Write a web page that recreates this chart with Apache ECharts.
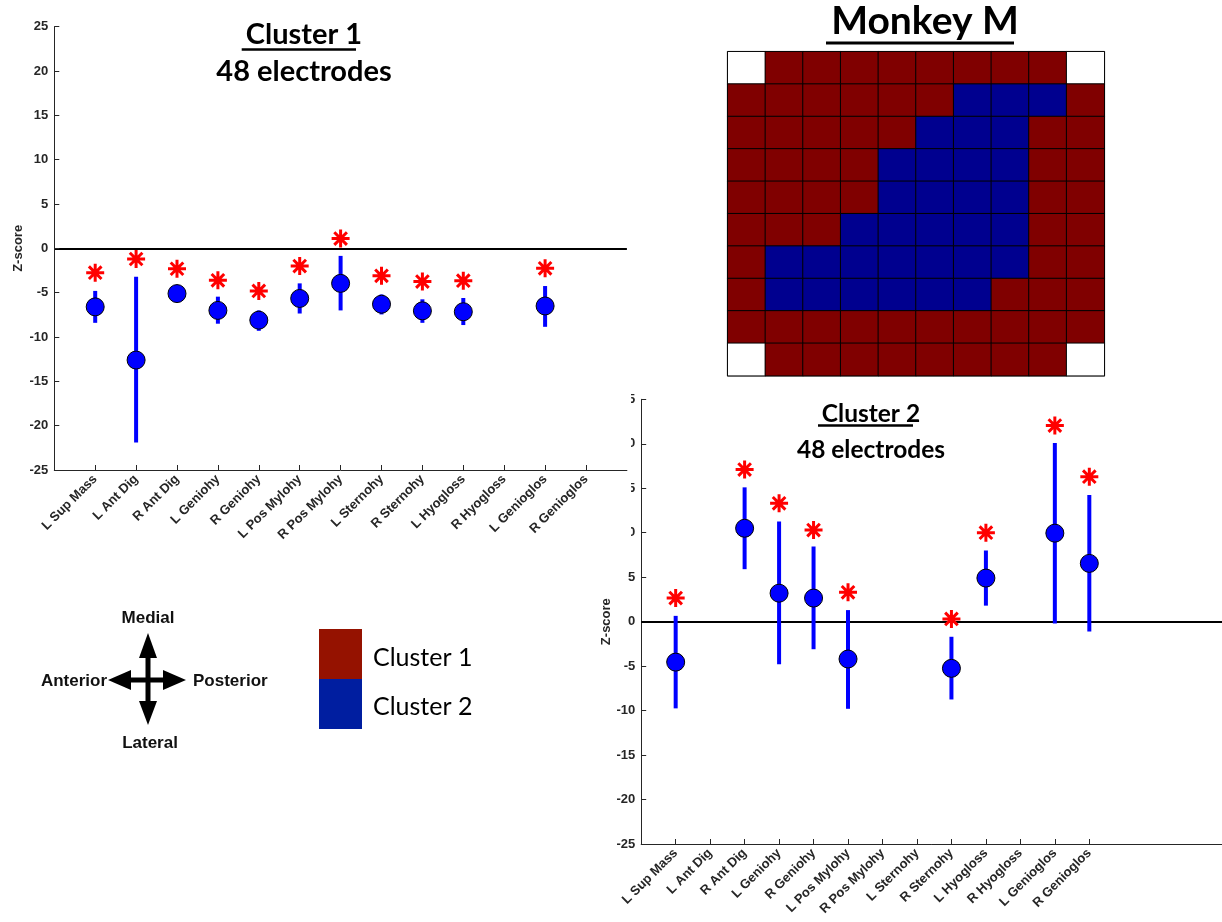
<!DOCTYPE html>
<html>
<head>
<meta charset="utf-8">
<script src="https://cdn.jsdelivr.net/npm/echarts@6/dist/echarts.min.js"></script>
<style>
html,body{margin:0;padding:0;background:#fff}
#main{width:1222px;height:922px}
</style>
</head>
<body>
<div id="main"></div>
<script>
// muscle names on the x axis (same for both clusters)
var muscles = ['L Sup Mass','L Ant Dig','R Ant Dig','L Geniohy','R Geniohy','L Pos Mylohy',
  'R Pos Mylohy','L Sternohy','R Sternohy','L Hyogloss','R Hyogloss','L Genioglos','R Genioglos'];

// cluster 1: mean z-score, error bar low/high, significance star
var c1Mean = [-6.6,-12.6,-5.1,-7.0,-8.1,-5.65,-3.95,-6.3,-7.05,-7.15,null,-6.5,null];
var c1Low  = [-8.4,-21.9,-5.5,-8.5,-9.3,-7.35,-7.0,-7.45,-8.4,-8.65,null,-8.85,null];
var c1High = [-4.8,-3.2,-4.7,-5.45,-7.0,-3.95,-0.85,-5.2,-5.75,-5.6,null,-4.25,null];
var c1Star = [-2.75,-1.2,-2.3,-3.6,-4.8,-2.0,1.1,-3.1,-3.75,-3.65,null,-2.25,null];

// cluster 2
var c2Mean = [-4.55,null,10.5,3.2,2.65,-4.2,null,null,-5.25,4.9,null,9.95,6.55];
var c2Low  = [-9.75,null,5.9,-4.8,-3.1,-9.8,null,null,-8.75,1.8,null,-0.2,-1.1];
var c2High = [0.65,null,15.1,11.25,8.45,1.3,null,null,-1.7,8.0,null,20.1,14.25];
var c2Star = [2.65,null,17.1,13.3,10.3,3.3,null,null,0.3,10.0,null,22.05,16.3];

// electrode map, 0 = empty, 1 = cluster 1, 2 = cluster 2 (top row first)
var mapRows = [
  '0111111110',
  '1111112221',
  '1111122211',
  '1111222211',
  '1111222211',
  '1112222211',
  '1222222211',
  '1222222111',
  '1111111111',
  '0111111110'
];

var tickPos = muscles.map(function(m, i){ return i + 1; });
var axisCol = '#262626';
var lblFont = {fontFamily:'Liberation Sans', fontWeight:'bold', fontSize:13, color:axisCol};
var star = 'path://M10,0L10,20M0,10L20,10M3,3L17,17M3,17L17,3';

function points(arr){
  var out = [];
  arr.forEach(function(v, i){ if(v != null) out.push([i + 1, v]); });
  return out;
}
function ranges(lo, hi){
  var out = [];
  lo.forEach(function(v, i){ if(v != null) out.push([i + 1, v, hi[i]]); });
  return out;
}
function heatData(){
  var out = [];
  mapRows.forEach(function(row, r){
    for(var c = 0; c < row.length; c++) out.push([c, r, +row[c]]);
  });
  return out;
}

function xAx(idx, max){
  return {
    type:'value', gridIndex:idx, min:0, max:max, interval:1, z:idx === 0 ? 3 : 0,
    splitLine:{show:false},
    axisLine:{onZero:false, lineStyle:{color:axisCol, width:1}},
    axisTick:{inside:true, length:5, customValues:tickPos, lineStyle:{color:axisCol}},
    axisLabel:Object.assign({customValues:tickPos, rotate:45, margin:7,
      formatter:function(v){ return muscles[v - 1] || ''; }}, lblFont)
  };
}
function yAx(idx){
  return {
    type:'value', gridIndex:idx, min:-25, max:25, interval:5, z:idx === 0 ? 3 : 0,
    splitLine:{show:false},
    axisLine:{show:true, onZero:false, lineStyle:{color:axisCol, width:1}},
    axisTick:{show:true, inside:true, length:5, lineStyle:{color:axisCol}},
    axisLabel:Object.assign({margin:6}, lblFont),
    name:'Z-score', nameLocation:'middle', nameGap:idx === 0 ? 29 : 24,
    nameTextStyle:lblFont
  };
}
function errSeries(idx, lo, hi){
  return {
    type:'custom', xAxisIndex:idx, yAxisIndex:idx, z:2,
    data:ranges(lo, hi), encode:{x:0, y:[1, 2]},
    renderItem:function(params, api){
      var a = api.coord([api.value(0), api.value(1)]);
      var b = api.coord([api.value(0), api.value(2)]);
      return {type:'line', shape:{x1:a[0], y1:a[1], x2:b[0], y2:b[1]},
        style:{stroke:'#0000ff', lineWidth:4}};
    }
  };
}
function meanSeries(idx, arr){
  return {
    type:'scatter', xAxisIndex:idx, yAxisIndex:idx, z:4,
    data:points(arr), symbol:'circle', symbolSize:18,
    itemStyle:{color:'#0000ff', borderColor:'#000', borderWidth:1, opacity:1},
    markLine:{silent:true, symbol:'none', label:{show:false}, z:1,
      lineStyle:{color:'#000', width:2, type:'solid'}, data:[{yAxis:0}]}
  };
}
function starSeries(idx, arr){
  return {
    type:'scatter', xAxisIndex:idx, yAxisIndex:idx, z:4,
    data:points(arr), symbol:star, symbolSize:18,
    itemStyle:{color:'none', borderColor:'#ff0000', borderWidth:3, opacity:1}
  };
}

var titleFont = {fontFamily:'Lato', fontWeight:'bold', fontSize:29, color:'#000'};
var title2Font = {fontFamily:'Lato', fontWeight:'bold', fontSize:24.5, color:'#000'};

var chart = echarts.init(document.getElementById('main'));
chart.setOption({
  animation:false,
  backgroundColor:'#fff',
  title:[
    {text:'Cluster 1', subtext:'48 electrodes', left:299, top:15, textAlign:'center', itemGap:8,
      textStyle:titleFont, subtextStyle:titleFont},
    {text:'Cluster 2', subtext:'48 electrodes', left:866, top:397, textAlign:'center', itemGap:11,
      textStyle:title2Font, subtextStyle:title2Font},
    {text:'Monkey M', left:920, top:-3, textAlign:'center',
      textStyle:{fontFamily:'Lato', fontWeight:'bold', fontSize:39, color:'#000'}}
  ],
  grid:[
    {left:54.3, top:26.7, width:572.6, height:443.3, outerBoundsMode:'none'},
    {left:641.2, top:399.3, width:586, height:444.7, outerBoundsMode:'none'},
    {left:727.7, top:51.7, width:376.6, height:324, outerBoundsMode:'none',
      show:true, borderColor:'#666', borderWidth:1.5, backgroundColor:'#fff'}
  ],
  xAxis:[
    xAx(0, 14),
    xAx(1, 17),
    {type:'category', gridIndex:2, data:mapRows[0].split('').map(function(c, i){ return i; }), show:false}
  ],
  yAxis:[
    yAx(0),
    yAx(1),
    {type:'category', gridIndex:2, inverse:true, data:mapRows.map(function(r, i){ return i; }), show:false}
  ],
  visualMap:{
    type:'piecewise', show:false, seriesIndex:6, dimension:2,
    pieces:[{value:0, color:'#ffffff'}, {value:1, color:'#800000'}, {value:2, color:'#00008f'}]
  },
  series:[
    errSeries(0, c1Low, c1High),
    meanSeries(0, c1Mean),
    starSeries(0, c1Star),
    errSeries(1, c2Low, c2High),
    meanSeries(1, c2Mean),
    starSeries(1, c2Star),
    {type:'heatmap', xAxisIndex:2, yAxisIndex:2, data:heatData(),
      itemStyle:{borderColor:'#000', borderWidth:1}, emphasis:{disabled:true}}
  ],
  graphic:[
    // white panel edge that hides part of the cluster 2 tick labels
    {type:'rect', z:1, shape:{x:600, y:390, width:31, height:155}, style:{fill:'#fff'}},
    // title underlines
    {type:'line', shape:{x1:241.7, y1:49.5, x2:356, y2:49.5}, style:{stroke:'#000', lineWidth:2.5}},
    {type:'line', shape:{x1:818, y1:425.5, x2:913, y2:425.5}, style:{stroke:'#000', lineWidth:2.5}},
    {type:'line', shape:{x1:826, y1:43, x2:1014, y2:43}, style:{stroke:'#000', lineWidth:3}},
    // orientation compass
    {type:'line', shape:{x1:148, y1:652, x2:148, y2:708}, style:{stroke:'#000', lineWidth:5}},
    {type:'line', shape:{x1:126, y1:680, x2:168, y2:680}, style:{stroke:'#000', lineWidth:5}},
    {type:'polygon', shape:{points:[[148,633],[139,658],[157,658]]}, style:{fill:'#000'}},
    {type:'polygon', shape:{points:[[148,725],[139,701],[157,701]]}, style:{fill:'#000'}},
    {type:'polygon', shape:{points:[[108,680],[131,670],[131,690]]}, style:{fill:'#000'}},
    {type:'polygon', shape:{points:[[186,680],[163,670],[163,690]]}, style:{fill:'#000'}},
    {type:'text', style:{text:'Medial', x:148, y:618, textAlign:'center', textVerticalAlign:'middle',
      font:'bold 17px "Liberation Sans"', fill:'#111'}},
    {type:'text', style:{text:'Lateral', x:150, y:743, textAlign:'center', textVerticalAlign:'middle',
      font:'bold 17px "Liberation Sans"', fill:'#111'}},
    {type:'text', style:{text:'Anterior', x:107, y:681, textAlign:'right', textVerticalAlign:'middle',
      font:'bold 17px "Liberation Sans"', fill:'#111'}},
    {type:'text', style:{text:'Posterior', x:193, y:681, textAlign:'left', textVerticalAlign:'middle',
      font:'bold 17px "Liberation Sans"', fill:'#111'}},
    // cluster colour key
    {type:'rect', shape:{x:319, y:629, width:43, height:50}, style:{fill:'#951200'}},
    {type:'rect', shape:{x:319, y:679, width:43, height:50}, style:{fill:'#001ea0'}},
    {type:'text', style:{text:'Cluster 1', x:373, y:658, textAlign:'left', textVerticalAlign:'middle',
      font:'25px Lato', fill:'#000'}},
    {type:'text', style:{text:'Cluster 2', x:373, y:707, textAlign:'left', textVerticalAlign:'middle',
      font:'25px Lato', fill:'#000'}}
  ]
});
</script>
</body>
</html>
